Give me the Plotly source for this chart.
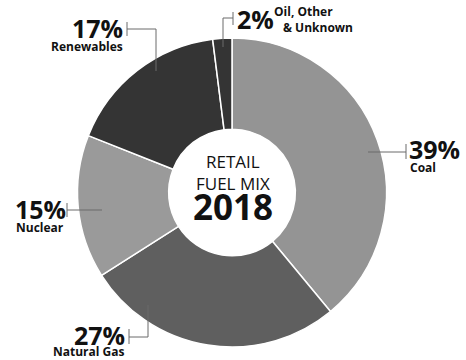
import plotly.graph_objects as go

W, H = 466, 360

categories = ["Coal", "Natural Gas", "Nuclear", "Renewables", "Oil, Other & Unknown"]
shares = [39, 27, 15, 17, 2]
colors = ["#949494", "#5f5f5f", "#9a9a9a", "#343434", "#343434"]
pct_labels = [f"{v}%" for v in shares]
center_lines = ["RETAIL", "FUEL MIX", "2018"]

def px(x):
    return x / W

def py(y):
    return 1 - y / H

fig = go.Figure(go.Pie(
    labels=categories,
    values=shares,
    sort=False,
    direction="clockwise",
    rotation=0,
    hole=0.41,
    marker=dict(colors=colors, line=dict(color="white", width=1.5)),
    textinfo="none",
    hoverinfo="label+percent",
    showlegend=False,
    domain=dict(x=[px(77), px(387)], y=[py(347), py(38)]),
))

FAM = "Open Sans, Arial"
BIG = dict(family=FAM, size=25, color="#111111", weight="bold")
SMALL = dict(family=FAM, size=12, color="#111111", weight="bold")

annotations = []
def ann(text, x, y, font, xanchor):
    annotations.append(dict(text=text, x=px(x), y=py(y), xref="paper", yref="paper",
                            showarrow=False, font=font, xanchor=xanchor, yanchor="middle"))

# Coal
ann(pct_labels[0], 407, 149, BIG, "left")
ann(categories[0], 408, 167, SMALL, "left")
# Natural gas
ann(pct_labels[1], 127, 335, BIG, "right")
ann(categories[1], 127, 351, SMALL, "right")
# Nuclear
ann(pct_labels[2], 13, 209, BIG, "left")
ann(categories[2], 14, 227, SMALL, "left")
# Renewables
ann(pct_labels[3], 125, 28, BIG, "right")
ann(categories[3], 125, 46, SMALL, "right")
# Oil
ann(pct_labels[4], 235, 19, BIG, "left")
ann("Oil, Other", 272, 12, SMALL, "left")
ann("&amp; Unknown", 281, 28, SMALL, "left")

# Center text
CT = dict(family=FAM, size=17, color="#111111")
ann(center_lines[0], 233, 161, CT, "center")
ann(center_lines[1], 233, 183, CT, "center")
ann(center_lines[2], 233, 206, dict(family=FAM, size=35, color="#111111", weight="bold"), "center")

shapes = []
def seg(x0, y0, x1, y1):
    shapes.append(dict(type="line", xref="paper", yref="paper",
                       x0=px(x0), y0=py(y0), x1=px(x1), y1=py(y1),
                       line=dict(color="#6a6a6a", width=1)))

# Coal leader
seg(368, 152, 406, 152); seg(406, 144, 406, 159)
# Nuclear leader
seg(67, 210, 102, 210); seg(67, 203, 67, 217)
# Renewables leader
seg(127, 22, 127, 36); seg(127, 29, 156, 29); seg(156, 29, 156, 71)
# Oil leader
seg(233, 12, 233, 25); seg(223, 18, 233, 18); seg(223, 18, 223, 47)
# Natural gas leader
seg(129, 329, 129, 344); seg(129, 337, 148, 337); seg(148, 337, 148, 305)

fig.update_layout(
    width=W, height=H,
    margin=dict(l=0, r=0, t=0, b=0),
    paper_bgcolor="white", plot_bgcolor="white",
    annotations=annotations, shapes=shapes,
)

fig.write_html("out.html")
